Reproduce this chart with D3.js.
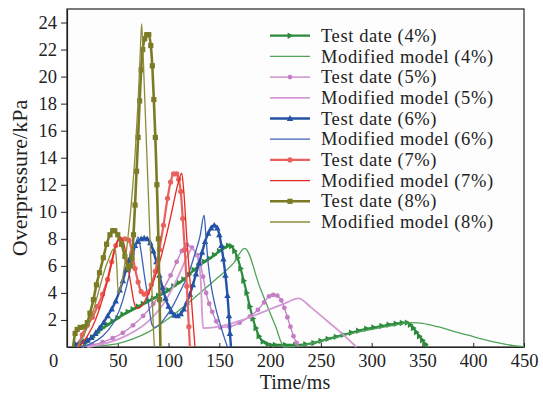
<!DOCTYPE html>
<html><head><meta charset="utf-8">
<script src="https://cdn.jsdelivr.net/npm/d3@7"></script>
<style>
html,body{margin:0;padding:0;background:#fff;}
svg{display:block;font-family:"Liberation Serif","Times New Roman",serif;}
</style></head>
<body><svg id="c" width="543" height="394"></svg>
<script>
// ---- data (time in ms, overpressure in kPa) ----
const xTicks = [0,50,100,150,200,250,300,350,400,450];
const yTicks = [2,4,6,8,10,12,14,16,18,20,22,24];
const legendLabels = ["Test date (4%)","Modified model (4%)","Test date (5%)","Modified model (5%)",
  "Test date (6%)","Modified model (6%)","Test date (7%)","Modified model (7%)","Test date (8%)","Modified model (8%)"];

const test4 = [[15,0],[20,0.4],[25,0.7],[30,1.05],[35,1.4],[40,1.65],[45,1.9],[50,2.15],[55,2.4],[60,2.6],[65,2.8],[70,3.0],[75,3.2],[80,3.4],[85,3.6],[90,3.8],[95,4.0],[100,4.2],[105,4.5],[110,4.75],[115,5.0],[120,5.35],[125,5.7],[130,6.0],[135,6.3],[140,6.55],[145,6.8],[150,7.1],[155,7.35],[159,7.5],[162,7.45],[165,7.1],[168,6.6],[171,5.8],[174,4.9],[177,4.0],[180,3.0],[183,2.1],[186,1.4],[189,0.8],[193,0.4],[198,0.2],[205,0.15],[215,0.15],[225,0.15],[235,0.2],[243,0.3],[250,0.45],[257,0.6],[265,0.75],[272,0.9],[280,1.05],[287,1.2],[295,1.35],[302,1.45],[310,1.55],[317,1.65],[324,1.72],[330,1.78],[335,1.8],[338,1.65],[341,1.4],[344,1.1],[347,0.8],[350,0.5],[353,0.2],[355,0]];
const model4 = [[20,0],[35,0.1],[50,0.25],[65,0.6],[80,1.1],[98,2.0],[115,3.0],[131,4.0],[148,5.1],[164,6.2],[175,7.3],[190,4.4],[205,1.6],[214,0],[225,0.05],[240,0.25],[260,0.6],[280,1.0],[300,1.3],[320,1.58],[341,1.8],[350,1.75],[365,1.5],[380,1.18],[395,0.87],[410,0.56],[425,0.3],[440,0.1],[450,0.02]];

const test5 = [[15,0],[25,0.15],[35,0.35],[45,0.65],[55,1.05],[65,1.6],[75,2.3],[85,3.2],[95,4.3],[102,5.3],[108,6.3],[113,7.1],[118,7.55],[123,7.35],[128,6.8],[131,6.2],[134,5.2],[137,4.0],[140,3.2],[143,2.6],[147,1.9],[151,1.45],[160,1.5],[170,1.8],[180,2.25],[188,2.75],[194,3.3],[199,3.75],[203,3.85],[207,3.8],[211,3.45],[214,2.9],[217,2.2],[220,1.5],[223,0.8],[226,0.3],[228,0]];
const model5 = [[20,0],[40,0.3],[60,0.9],[80,1.9],[95,3.2],[105,4.5],[113,5.8],[119,6.8],[123,7.25],[127,6.9],[130.5,5.9],[132,4.5],[133,2.5],[134,1.4],[145,1.45],[160,1.7],[180,2.2],[200,2.8],[215,3.25],[228,3.6],[240,2.95],[255,2.0],[270,1.05],[285,0]];

const test6 = [[8,0.2],[12,0.3],[16,0.4],[20,0.5],[24,0.7],[28,1.0],[32,1.4],[36,1.8],[40,2.3],[44,2.8],[48,3.4],[52,4.2],[55,4.9],[58,5.7],[61,6.4],[64,7.0],[67,7.5],[70,7.8],[73,8.0],[76,8.05],[79,8.0],[82,7.7],[85,7.1],[88,6.3],[91,5.3],[94,4.4],[97,3.6],[100,3.0],[103,2.6],[106,2.35],[109,2.3],[112,2.45],[115,2.8],[118,3.3],[121,3.9],[124,4.6],[127,5.4],[130,6.2],[133,7.0],[136,7.8],[139,8.4],[142,8.8],[145,9.0],[148,8.8],[150,8.3],[152,7.5],[154,6.5],[156,5.3],[158,3.8],[159.5,2.3],[160.5,1.0],[161.5,0]];
const model6 = [[14,0],[25,0.3],[35,0.8],[45,1.7],[52,2.8],[58,4.3],[62,5.6],[66,7.0],[70,8.15],[72,7.5],[74,6.5],[76,5.4],[78.5,4.2],[81,2.8],[83.5,1.7],[86,1.45],[90,1.6],[96,2.1],[104,3.0],[112,4.2],[120,5.5],[126,6.9],[131,8.2],[135,9.75],[137,8.0],[139,6.2],[142,4.5],[146,3.0],[150,1.9],[154,0.9],[158,0]];

const test7 = [[11,0],[15,0.9],[20,1.6],[25,2.2],[30,3.0],[35,3.9],[40,5.0],[44,6.3],[48,7.5],[52,8.0],[57,8.0],[61,7.9],[64,7.0],[67,5.8],[70,4.8],[73,4.1],[76,3.9],[79,4.0],[83,4.6],[87,5.6],[91,7.2],[95,9.0],[99,11.0],[102,12.2],[105,12.8],[108,12.8],[110,12.4],[112,11.5],[114,9.5],[116,7.2],[118,4.5],[120,1.5],[121,0]];
const model7 = [[12,0],[20,0.8],[28,2.0],[36,3.8],[42,5.6],[47,7.2],[52,8.1],[56,7.6],[60,6.0],[63,4.6],[66,3.3],[69,2.85],[73,3.0],[78,3.6],[85,4.8],[92,6.5],[98,8.3],[104,10.3],[109,12.0],[113,12.85],[115,11.5],[118,8.0],[121,5.0],[124,2.0],[126,0]];

const test8 = [[6,0],[8,1.0],[10,1.3],[13,1.45],[17,1.5],[20,1.8],[22.6,2.5],[26,3.5],[29,4.6],[32,5.5],[35.8,6.6],[39,7.6],[42.3,8.3],[45,8.6],[47,8.6],[50,8.3],[53.8,7.6],[57,6.7],[60.4,5.8],[62.5,6.0],[64,6.6],[65.5,8.3],[67,10.5],[68.5,13],[70,15.5],[71.5,18.2],[73,20.5],[74.5,22],[76.5,22.8],[78.5,23.1],[80.5,23.1],[82.5,22.3],[84,20.8],[85.5,18.3],[87,15.5],[88.5,12],[90,8],[91.2,3.5],[92,0]];
const model8 = [[10,0],[14,0.5],[18,1.1],[22,1.8],[26,2.7],[30,3.8],[34,4.9],[38,5.9],[42,6.7],[45,7.2],[47.5,7.3],[49,6.0],[50.5,4.0],[52,4.2],[55,5.2],[58,6.8],[61,8.8],[64,11.2],[67,14.2],[70,18.2],[72,21.5],[73.5,23.9],[75,21.5],[77,17.5],[79,13.5],[81,9.5],[83,5.5],[85,1.5],[86,0]];

// ---- series styling ----
const series = [
  {data:test4, color:"#2b8a3c", w:2.2, marker:"tri-right"},
  {data:model4, color:"#4fa35a", w:1.3, marker:null},
  {data:test5, color:"#c47fc4", w:1.3, marker:"circle-small"},
  {data:model5, color:"#d49ad4", w:1.8, marker:null},
  {data:test6, color:"#2452a6", w:2.4, marker:"tri-up"},
  {data:model6, color:"#3a62b4", w:1.3, marker:null},
  {data:test7, color:"#e9605c", w:2.2, marker:"circle"},
  {data:model7, color:"#e42a22", w:1.3, marker:null},
  {data:test8, color:"#7b7b26", w:2.6, marker:"square"},
  {data:model8, color:"#8c8c3c", w:1.3, marker:null}
];

const svg = d3.select("#c");
const x = d3.scaleLinear().domain([0,450]).range([67,524]);
const y = d3.scaleLinear().domain([0,25]).range([347,9]);

// plot frame
svg.append("rect").attr("x",67).attr("y",9).attr("width",524-67).attr("height",347-9)
  .attr("fill","#fdfdfd").attr("stroke","#222").attr("stroke-width",1.2);

// axes
const gx = svg.append("g").attr("transform","translate(0,347)")
  .call(d3.axisBottom(x).tickValues(xTicks).tickSizeInner(-4).tickSizeOuter(0).tickPadding(7).tickFormat(d3.format("d")));
gx.selectAll("text").attr("font-size",18.5).attr("fill","#222").attr("font-family","Liberation Serif");
gx.selectAll(".tick").filter(d=>d===0).select("text").attr("dx",-14);
gx.selectAll(".tick").filter(d=>d===0).select("line").remove();
gx.select(".domain").attr("stroke","#222").attr("stroke-width",1.2);
gx.selectAll(".tick line").attr("stroke","#222");

const gy = svg.append("g").attr("transform","translate(67,0)")
  .call(d3.axisLeft(y).tickValues(yTicks).tickSizeInner(6).tickSizeOuter(0).tickPadding(4));
gy.selectAll("text").attr("font-size",18.5).attr("fill","#222").attr("font-family","Liberation Serif");
gy.select(".domain").attr("stroke","#222").attr("stroke-width",1.2);
gy.selectAll(".tick line").attr("stroke","#222");

// axis titles
svg.append("text").attr("x",295).attr("y",389).attr("text-anchor","middle")
  .attr("font-size",20).attr("fill","#222").text("Time/ms");
svg.append("text").attr("transform","translate(27,178) rotate(-90)").attr("text-anchor","middle")
  .attr("font-size",22).attr("fill","#222").text("Overpressure/kPa");

// marker drawing
function drawMarker(g, type, cx, cy, color){
  if(!type) return;
  if(type==="circle") g.append("circle").attr("cx",cx).attr("cy",cy).attr("r",2.6).attr("fill",color);
  else if(type==="circle-small") g.append("circle").attr("cx",cx).attr("cy",cy).attr("r",2.4).attr("fill",color);
  else if(type==="square") g.append("rect").attr("x",cx-2.6).attr("y",cy-2.6).attr("width",5.2).attr("height",5.2).attr("fill",color);
  else if(type==="tri-up") g.append("path").attr("d",`M${cx},${cy-3.4}L${cx+3.2},${cy+2.4}L${cx-3.2},${cy+2.4}Z`).attr("fill",color);
  else if(type==="tri-right") g.append("path").attr("d",`M${cx+3.4},${cy}L${cx-2.4},${cy-3.2}L${cx-2.4},${cy+3.2}Z`).attr("fill",color);
}

const line = d3.line().x(d=>x(d[0])).y(d=>y(d[1])).curve(d3.curveMonotoneX);
const plot = svg.append("g");
series.forEach(s=>{
  plot.append("path").datum(s.data).attr("d",line).attr("fill","none")
    .attr("stroke",s.color).attr("stroke-width",s.w).attr("stroke-linejoin","round");
  if(s.marker){
    const mg = plot.append("g");
    s.data.forEach(d=>{ if(d[1]>0.05) drawMarker(mg, s.marker, x(d[0]), y(d[1]), s.color); });
  }
});

// legend
const lg = svg.append("g");
series.forEach((s,i)=>{
  const yy = 35.7 + i*20.7;
  lg.append("line").attr("x1",270).attr("x2",310).attr("y1",yy).attr("y2",yy)
    .attr("stroke",s.color).attr("stroke-width",s.w);
  drawMarker(lg, s.marker, 290, yy, s.color);
  lg.append("text").attr("x",321).attr("y",yy).attr("dy","0.33em")
    .attr("font-size",18.5).attr("letter-spacing","0.6px").attr("fill","#222").text(legendLabels[i]);
});
</script></body></html>
